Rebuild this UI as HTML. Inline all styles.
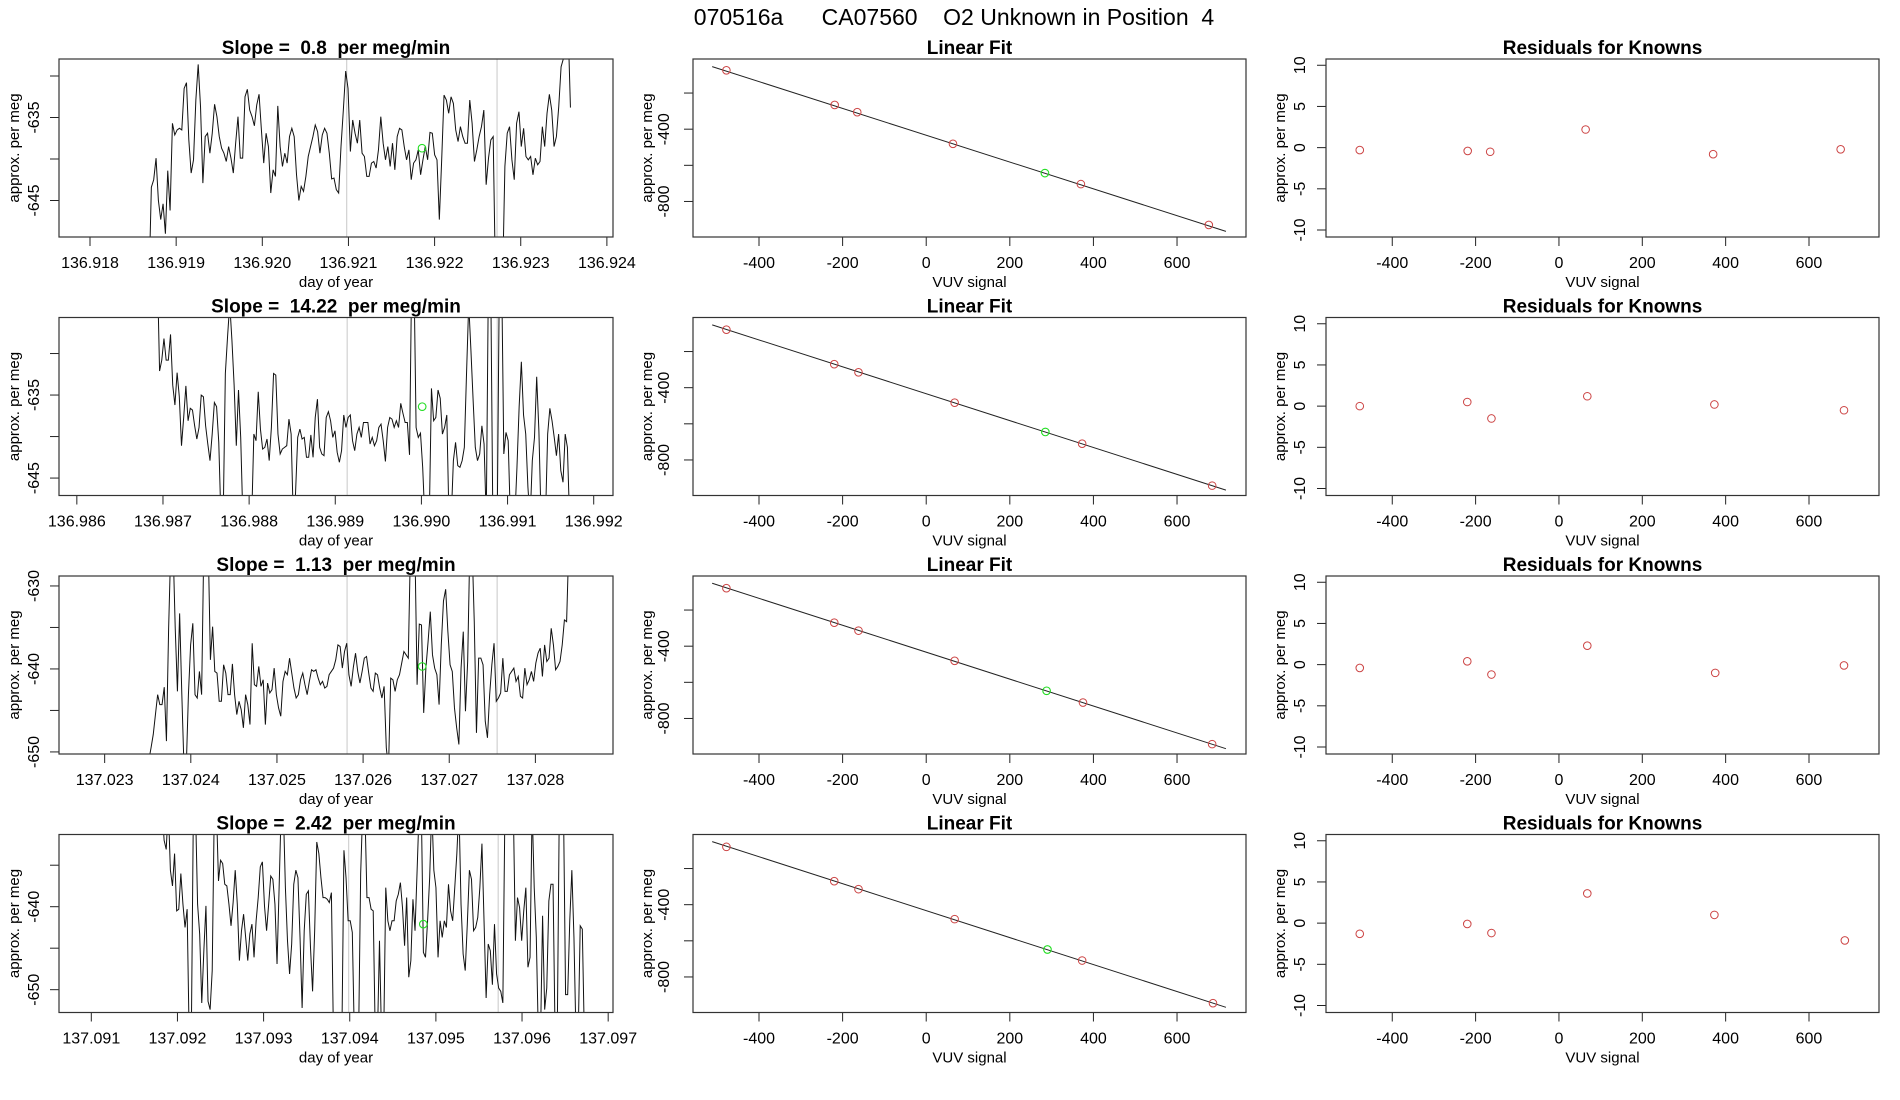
<!DOCTYPE html>
<html><head><meta charset="utf-8"><title>070516a CA07560</title>
<style>
html,body{margin:0;padding:0;background:#fff;}
svg{display:block;font-family:"Liberation Sans",Arial,sans-serif;}
</style></head>
<body>
<svg id="chart" width="1900" height="1100" viewBox="0 0 1900 1100">
<rect width="1900" height="1100" fill="#fff"/>
<text x="954" y="25" text-anchor="middle" font-size="23" style="white-space:pre">070516a      CA07560    O2 Unknown in Position  4</text>
</svg>
<script>
// ---------- time-series data (approx. per meg) ----------
const slopeLabels = ["0.8", "14.22", "1.13", "2.42"];
const ts1Values = [-655,-643.4,-642.5,-639.9,-645,-647.3,-645.4,-649,-641.4,-646.2,-635.7,-637.1,-636.5,-636.3,-636.5,-631.5,-630.8,-637.7,-641.7,-640.1,-632.9,-628.6,-633.7,-642.9,-637.3,-636.9,-639.3,-636.9,-633.4,-634.9,-637.3,-638.7,-639.3,-640.3,-638.5,-639.9,-641.7,-638.1,-634.9,-639.9,-639.9,-632.5,-631.6,-634.1,-634.9,-636,-633.5,-632.2,-636.5,-640.5,-636.9,-638.5,-644.1,-641.3,-642.1,-633.6,-638.5,-640.9,-639.3,-640.5,-637.3,-636.3,-637.3,-641.9,-645,-643.3,-643.9,-642.1,-639.7,-638.5,-637.3,-635.9,-636.7,-639.3,-637.1,-636.3,-636.9,-639.3,-642.4,-642.3,-643.7,-644.1,-638.5,-634.1,-629.4,-631.5,-639.1,-635.3,-636.9,-638.1,-635.3,-639.3,-639.7,-642.1,-642.1,-640.5,-640.3,-641.1,-638.9,-634.9,-638.1,-640.1,-638.5,-640.9,-638.1,-641.3,-637.3,-636.3,-636.5,-638.5,-640.1,-638.9,-642.5,-640.5,-640.1,-638.9,-641.9,-640.1,-638.5,-640.1,-636.8,-636.9,-639.5,-640.1,-647.3,-640.1,-632.3,-632.9,-634.5,-632.5,-633.3,-636.5,-637.9,-636.1,-637.3,-638.1,-638.1,-632.9,-635.7,-640.3,-638.9,-637.3,-636.1,-634.1,-643.1,-639.9,-637.7,-637.3,-655,-655,-655,-655,-640.9,-636.9,-636.1,-640.1,-642.5,-635.7,-634.3,-638.5,-636.3,-639.7,-640.1,-639.7,-641.9,-639.9,-640.7,-640.3,-636.1,-638.5,-634.5,-632.2,-634.1,-638.5,-637.3,-633.7,-628.9,-627.9,-625.7,-624,-633.8];
const ts2Values = [-620,-632.1,-630.8,-628.2,-630.8,-630.8,-627.7,-633.8,-636.2,-632.3,-635.2,-641.1,-637.7,-633.9,-638.1,-636.6,-636.8,-638.7,-640.3,-638.9,-635,-635.2,-638.7,-640.9,-642.9,-639.7,-635.9,-636.4,-640.7,-650,-650,-632.4,-628,-624,-628.4,-633.8,-641.1,-634.4,-640.1,-650,-650,-650,-650,-650,-639.7,-640.5,-634.6,-639.1,-641.5,-641.3,-640.3,-642.9,-638.9,-632.4,-632.6,-639.7,-642.1,-641.5,-641.3,-641.1,-637.9,-639.7,-650,-646.9,-640.1,-639.1,-640.3,-640.1,-642.5,-642.5,-639.8,-642.5,-637.7,-635.5,-641.3,-642.1,-642.3,-637.7,-637,-638.1,-640.1,-639.3,-641.9,-643.1,-641.7,-637.4,-638.9,-637.7,-637.4,-640.5,-641.7,-639.7,-638.9,-640.1,-638.3,-638.3,-638.3,-640.9,-640.1,-641.1,-640.5,-638.9,-638.5,-640.5,-643,-638.9,-637.7,-637.9,-638.9,-638.1,-638.9,-636,-637.2,-638.3,-638.3,-642.2,-620,-620,-638.9,-640.1,-639.6,-643.7,-650,-650,-650,-634.2,-638.1,-637.7,-634.4,-635.4,-639.7,-638.9,-637.4,-650,-650,-642.9,-640.7,-643.5,-643.7,-642.9,-641.3,-632.4,-624,-629.6,-635.6,-641.3,-642.9,-642.1,-638.7,-640.9,-650,-620,-620,-650,-650,-650,-620,-620,-642.1,-639.5,-640.5,-650,-650,-650,-643.7,-636.4,-631,-637.4,-639.7,-646.1,-650,-642.9,-640.1,-632.8,-639.3,-650,-650,-650,-639.7,-636.6,-638.1,-640.1,-642.3,-639.7,-644.1,-645.5,-639.7,-641.3,-650];
const ts3Values = [-651,-651,-651,-651,-651,-651,-651,-651,-651,-651,-651,-651,-651,-651,-651,-651,-651,-651,-651,-651,-649.5,-647.9,-645.5,-643.1,-644.3,-644.3,-642.2,-648.7,-635.1,-625,-625,-635.1,-642.7,-633.3,-643.1,-652,-652,-643.1,-637.1,-634.5,-643.1,-643.5,-640.3,-643.1,-625,-625,-625,-638.9,-634.9,-640.3,-640.5,-643.9,-643.9,-639.5,-640.5,-643.1,-643.1,-639.4,-643.1,-645.5,-643.9,-644.9,-647.1,-643.1,-644.3,-646.7,-636.9,-641.9,-642.1,-639.7,-642.1,-641.3,-646.7,-641.7,-642.9,-642.5,-639.9,-643.1,-644.7,-645.7,-641.5,-640.3,-640.7,-638.7,-640.5,-642.3,-643.5,-643.1,-641.3,-640.5,-641.9,-643.1,-641.5,-640.1,-640.3,-640.1,-641.1,-641.9,-641.5,-642.3,-642.1,-640.7,-640.3,-639.9,-638.9,-637.1,-637.3,-639.9,-637.9,-636.9,-640.7,-642.1,-639.8,-638.1,-640.3,-641.7,-640.3,-638.7,-638.5,-640.5,-642.3,-642.7,-640.5,-640.7,-642.3,-643.5,-642.1,-649.5,-652,-641.1,-641.3,-642.7,-641.3,-640.7,-639.3,-637.9,-638.3,-638.7,-625,-625,-625,-641.9,-634.6,-634.7,-645.3,-639.9,-636.7,-633.1,-638.3,-639.9,-640.7,-644.3,-637.1,-631.8,-630.4,-635.5,-639.5,-640.3,-644.7,-647.1,-649.1,-639.9,-635.5,-645.1,-639.1,-625,-625,-634.3,-647.7,-638.7,-638.7,-639.5,-646.3,-648.3,-643.1,-639.5,-636.9,-643.9,-643.5,-642.9,-638.7,-642.7,-642.7,-640.7,-640.3,-639.9,-641.5,-640.9,-643.3,-643.5,-639.9,-641.9,-641.3,-640.3,-641.5,-639.3,-638.1,-637.5,-640.9,-637.1,-639.1,-638.7,-635.1,-637.1,-640.1,-639.7,-639.1,-637.1,-634.1,-634.3,-625];
const ts4Values = [-628,-632,-633.1,-628,-635.6,-637.5,-633.6,-640.5,-640.3,-636,-639.7,-642.5,-640.3,-656,-656,-628,-628,-639.7,-643.3,-651.6,-645.3,-639.9,-651.4,-652.4,-647.7,-628,-628,-636.9,-634.4,-634.8,-637.3,-637.5,-639.7,-642.3,-639.5,-635.6,-639.7,-646.5,-642.9,-640.9,-643.7,-646.5,-643.3,-642.1,-646.1,-641.7,-638.9,-635.2,-634.6,-639.9,-642.9,-639.7,-636.3,-636.7,-639.7,-646.9,-637.7,-628,-628,-637.7,-644.1,-648.1,-644.5,-637.3,-635.6,-636.5,-643.7,-652.2,-642.9,-638.5,-638.1,-644.9,-650.2,-642.9,-632.2,-633.6,-636.5,-638.9,-638.9,-639.1,-639.5,-638.3,-656,-656,-656,-656,-656,-633.2,-636.5,-641.7,-641.7,-643.1,-656,-656,-656,-636,-628,-628,-638.9,-638.9,-640.3,-640.5,-656,-656,-644.1,-656,-656,-637.7,-641.7,-642.9,-641.7,-641.7,-639.3,-638.5,-637.1,-640.1,-644.7,-638.9,-648.5,-646.5,-639.1,-642.9,-635.6,-628,-628,-645.5,-646.1,-641.7,-636.5,-628,-635.6,-637.7,-646.1,-641.7,-643.7,-641.7,-642.5,-637.3,-640.5,-641.7,-637.7,-633.6,-628,-639.7,-645.7,-647.7,-642.1,-635.6,-636.7,-642.9,-642.5,-641.3,-637.7,-632.4,-641.7,-651,-644.5,-645.3,-649.4,-642.1,-648.1,-649.8,-650.2,-651.6,-628,-628,-628,-628,-628,-644.1,-638.9,-640.1,-644.1,-640.5,-637.7,-647.3,-646.1,-628,-637.7,-643.7,-656,-656,-641.1,-652.4,-649.8,-639.3,-637.3,-637.3,-656,-656,-628,-628,-628,-650.6,-650.6,-641.7,-635.6,-643.7,-656,-656,-642.3,-642.7,-656];
// time span [start, end] of each series (day of year)
const tsStart = [136.918685, 136.986935, 137.023028, 137.091821];
const tsEnd = [136.923577, 136.991720, 137.028388, 137.096724];
// unknown (green) point per row: time, value
const unkTime = [136.921854, 136.990009, 137.026686, 137.094854];
const unkValue = [-638.7, -636.4, -639.7, -642.1];
// grey reference lines per row
const refLineA = [136.92098, 136.989138, 137.025814, 137.093988];
const refLineB = [136.922725, 136.990880, 137.027556, 137.095723];
// axis ranges per row
const tsXMin = [136.917640, 136.985793, 137.022470, 137.090625];
const tsXMax = [136.924071, 136.992224, 137.028901, 137.097056];
const tsYMin = [-649.4, -647.1, -650.25, -652.75];
const tsYMax = [-627.95, -625.66, -628.8, -631.3];
const tsXTicks = [
  ["136.918","136.919","136.920","136.921","136.922","136.923","136.924"],
  ["136.986","136.987","136.988","136.989","136.990","136.991","136.992"],
  ["137.023","137.024","137.025","137.026","137.027","137.028"],
  ["137.091","137.092","137.093","137.094","137.095","137.096","137.097"]];
const tsYTicks = [[-630,-635,-640,-645],[-630,-635,-640,-645],[-630,-635,-640,-645,-650],[-635,-640,-645,-650]];
const tsYLabels = [[-635,-645],[-635,-645],[-630,-640,-650],[-640,-650]];

// ---------- linear fit data ----------
const fitX = [[-478,-219,-165,64,370,676],[-478,-220,-162,68,373,684],[-478,-220,-162,68,375,684],[-478,-220,-162,68,373,686]];
const fitY = [[-74,-266,-306,-481,-704,-930],[-79,-270,-315,-483,-710,-942],[-79,-270,-314,-481,-712,-942],[-80,-270,-314,-480,-709,-945]];
const fitUnkX = [284, 285, 288, 290];
const fitUnkY = [-643, -645, -647, -648];
const fitSlope = [-0.742, -0.744, -0.745, -0.746];
const fitIntercept = [-433.5, -433.4, -433.2, -433.0];
const fitLineRange = [-512, 717];
const fitXTicks = [-400,-200,0,200,400,600];
const fitYTicks = [-200,-400,-600,-800];
const fitYLabels = [-400,-800];

// ---------- residuals ----------
const residY = [[-0.3,-0.4,-0.5,2.2,-0.8,-0.2],[0,0.5,-1.5,1.2,0.2,-0.5],[-0.4,0.4,-1.2,2.3,-1.0,-0.1],[-1.3,-0.1,-1.2,3.6,1.0,-2.1]];
const resYTicks = [-10,-5,0,5,10];

// ---------- drawing ----------
const NS = "http://www.w3.org/2000/svg";
const svg = document.getElementById("chart");
const ROW_TOP = [59, 317.5, 576, 834.5];
const BOX_H = 178;
const COLS = [{l:59,r:613},{l:693,r:1246},{l:1326,r:1879}];
const YLAB_X = [19, 652, 1285];
const YTICK_X = [39, 669, 1305];

function mk(tag, attrs, parent) {
  const e = document.createElementNS(NS, tag);
  for (const k in attrs) e.setAttribute(k, attrs[k]);
  (parent || svg).appendChild(e);
  return e;
}
function scale(d0, d1, r0, r1) { return v => r0 + (v - d0) / (d1 - d0) * (r1 - r0); }

function frame(col, row, title, xTickVals, xTickText, xs, yTickVals, yLabelVals, ys, xTitle, grp) {
  const c = COLS[col], top = ROW_TOP[row], bot = top + BOX_H;
  const t = mk("text", {x:(c.l+c.r)/2, y:top-5, "text-anchor":"middle", "font-size":19, "font-weight":"bold"}, grp);
  
  
  t.textContent = title;
  t.style.whiteSpace = "pre";
  xTickVals.forEach((v, i) => {
    const x = xs(v);
    const tk = mk("line", {x1:x, x2:x, y1:bot, y2:bot+9, stroke:"#222", "stroke-width":1}, grp);
    
    
    const tl = mk("text", {x:x, y:bot+31, "text-anchor":"middle", "font-size":16}, grp);
    
    
    tl.textContent = xTickText[i];
  });
  yTickVals.forEach(v => {
    const y = ys(v);
    const tk = mk("line", {x1:c.l-9, x2:c.l, y1:y, y2:y, stroke:"#222", "stroke-width":1}, grp);
    
    
  });
  yLabelVals.forEach(v => {
    const y = ys(v);
    const tl = mk("text", {x:YTICK_X[col], y:y, "text-anchor":"middle", "font-size":16, transform:`rotate(-90 ${YTICK_X[col]} ${y})`}, grp);
    
    
    tl.textContent = String(v);
  });
  const xt = mk("text", {x:(c.l+c.r)/2, y:bot+50, "text-anchor":"middle", "font-size":15}, grp);
  
  
  xt.textContent = xTitle;
  const cy = top + BOX_H/2;
  const yt = mk("text", {x:YLAB_X[col], y:cy, "text-anchor":"middle", "font-size":15, transform:`rotate(-90 ${YLAB_X[col]} ${cy})`}, grp);
  
  
  yt.textContent = "approx. per meg";
}
function box(col, row, grp) {
  const c = COLS[col], top = ROW_TOP[row];
  const b = mk("rect", {x:c.l, y:top, width:c.r-c.l, height:BOX_H, fill:"none", stroke:"#333", "stroke-width":1.2}, grp);
  
  
}
function clipFor(col, row, id) {
  const c = COLS[col], top = ROW_TOP[row];
  const cp = mk("clipPath", {id:id});
  mk("rect", {x:c.l, y:top, width:c.r-c.l, height:BOX_H}, cp);
  return "url(#" + id + ")";
}

const tsSeries = [ts1Values, ts2Values, ts3Values, ts4Values];
for (let r = 0; r < 4; r++) {
  // ---- time series panel ----
  const g1 = mk("g", {});
  
  
  const c = COLS[0], top = ROW_TOP[r];
  const xs = scale(tsXMin[r], tsXMax[r], c.l, c.r);
  const ys = scale(tsYMin[r], tsYMax[r], top + BOX_H, top);
  frame(0, r, "Slope =  " + slopeLabels[r] + "  per meg/min", tsXTicks[r].map(Number), tsXTicks[r], xs, tsYTicks[r], tsYLabels[r], ys, "day of year", g1);
  const clip = clipFor(0, r, "clipTs" + r);
  [refLineA[r], refLineB[r]].forEach(v => {
    const l = mk("line", {x1:xs(v), x2:xs(v), y1:top, y2:top+BOX_H, stroke:"#c8c8c8", "stroke-width":1}, g1);
    
    
  });
  const vals = tsSeries[r];
  const n = vals.length;
  const pts = vals.map((v, i) => {
    const t = tsStart[r] + (tsEnd[r] - tsStart[r]) * i / (n - 1);
    return xs(t).toFixed(2) + "," + ys(v).toFixed(2);
  }).join(" ");
  const pl = mk("polyline", {points:pts, fill:"none", stroke:"#111", "stroke-width":1, "clip-path":clip}, g1);
  
  
  const gp = mk("circle", {cx:xs(unkTime[r]), cy:ys(unkValue[r]), r:3.8, fill:"none", stroke:"#22dd22", "stroke-width":1.1}, g1);
  
  
  box(0, r, g1);

  // ---- linear fit panel ----
  const g2 = mk("g", {});
  
  
  const c2 = COLS[1];
  const xs2 = scale(-557.9, 765, c2.l, c2.r);
  const ys2 = scale(-996.7, -11.6, top + BOX_H, top);
  frame(1, r, "Linear Fit", fitXTicks, fitXTicks.map(String), xs2, fitYTicks, fitYLabels, ys2, "VUV signal", g2);
  const x0 = fitLineRange[0], x1 = fitLineRange[1];
  const fl = mk("line", {x1:xs2(x0), y1:ys2(fitIntercept[r] + fitSlope[r]*x0), x2:xs2(x1), y2:ys2(fitIntercept[r] + fitSlope[r]*x1), stroke:"#222", "stroke-width":1}, g2);
  
  
  fitX[r].forEach((xv, i) => {
    const p = mk("circle", {cx:xs2(xv), cy:ys2(fitY[r][i]), r:3.8, fill:"none", stroke:"#cc4444", "stroke-width":1}, g2);
    
    
  });
  const up = mk("circle", {cx:xs2(fitUnkX[r]), cy:ys2(fitUnkY[r]), r:3.8, fill:"none", stroke:"#22dd22", "stroke-width":1.1}, g2);
  
  
  box(1, r, g2);

  // ---- residuals panel ----
  const g3 = mk("g", {});
  
  
  const c3 = COLS[2];
  const xs3 = scale(-559, 768, c3.l, c3.r);
  const ys3 = scale(-10.85, 10.76, top + BOX_H, top);
  frame(2, r, "Residuals for Knowns", fitXTicks, fitXTicks.map(String), xs3, resYTicks, resYTicks, ys3, "VUV signal", g3);
  fitX[r].forEach((xv, i) => {
    const p = mk("circle", {cx:xs3(xv), cy:ys3(residY[r][i]), r:3.8, fill:"none", stroke:"#cc4444", "stroke-width":1}, g3);
    
    
  });
  box(2, r, g3);
}
</script>
</body></html>
